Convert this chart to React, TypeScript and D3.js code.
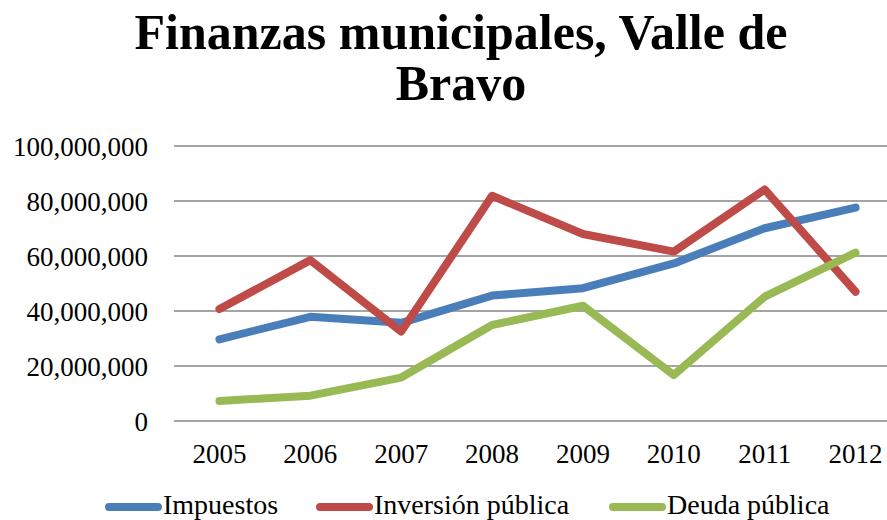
import * as d3 from "d3";
import React from "react";

// Finanzas municipales, Valle de Bravo (pesos)
const years = ["2005", "2006", "2007", "2008", "2009", "2010", "2011", "2012"];
const impuestos = [29.7e6, 37.9e6, 35.7e6, 45.6e6, 48.3e6, 57.3e6, 70.1e6, 77.6e6];
const inversion = [40.7e6, 58.5e6, 32.5e6, 81.9e6, 68.0e6, 61.6e6, 84.2e6, 47.0e6];
const deuda = [7.3e6, 9.2e6, 15.8e6, 34.9e6, 41.9e6, 16.7e6, 45.2e6, 61.2e6];
const yTicks = [0, 20e6, 40e6, 60e6, 80e6, 100e6];
const titleLines = ["Finanzas municipales, Valle de", "Bravo"];

const series = [
  { name: "Impuestos", values: impuestos, color: "#4A7EBB" },
  { name: "Inversión pública", values: inversion, color: "#BE4B48" },
  { name: "Deuda pública", values: deuda, color: "#98B954" },
];

const width = 887;
const height = 520;
const font = "'Liberation Serif', 'Times New Roman', serif";

// legend marker left edges (layout)
const legendX = [105, 316, 609];

const App = () => {
  const x = d3.scalePoint<string>().domain(years).range([174, 901]).padding(0.5);
  const y = d3.scaleLinear().domain([0, 100e6]).range([421, 146]);
  const fmt = d3.format(",");
  const line = d3
    .line<number>()
    .x((_, i) => x(years[i]) as number)
    .y((d) => y(d));

  return (
    <svg
      width={width}
      height={height}
      style={{ position: "absolute", left: 0, top: 0, background: "#fff" }}
      fontFamily={font}
    >
      <g fontWeight="bold" fontSize={50} textAnchor="middle" fill="#000">
        {titleLines.map((t, i) => (
          <text key={i} x={461} y={49 + i * 51}>
            {t}
          </text>
        ))}
      </g>

      <g>
        {yTicks.map((t) => (
          <g key={t}>
            <line x1={174} x2={901} y1={y(t)} y2={y(t)} stroke="#868686" strokeWidth={1.3} />
            <text x={148} y={y(t) + 10} textAnchor="end" fontSize={27} fill="#000">
              {fmt(t)}
            </text>
          </g>
        ))}
      </g>

      <g textAnchor="middle" fontSize={27} fill="#000">
        {years.map((yr) => (
          <text key={yr} x={x(yr)} y={463}>
            {yr}
          </text>
        ))}
      </g>

      {series.map((s) => (
        <path
          key={s.name}
          d={line(s.values) ?? undefined}
          fill="none"
          stroke={s.color}
          strokeWidth={8}
          strokeLinejoin="round"
          strokeLinecap="round"
        />
      ))}

      <g fontSize={28} fill="#000">
        {series.map((s, i) => (
          <g key={s.name}>
            <line
              x1={legendX[i] + 4}
              x2={legendX[i] + 53}
              y1={507}
              y2={507}
              stroke={s.color}
              strokeWidth={8}
              strokeLinecap="round"
            />
            <text x={legendX[i] + 58} y={514}>
              {s.name}
            </text>
          </g>
        ))}
      </g>
    </svg>
  );
};

export default App;
